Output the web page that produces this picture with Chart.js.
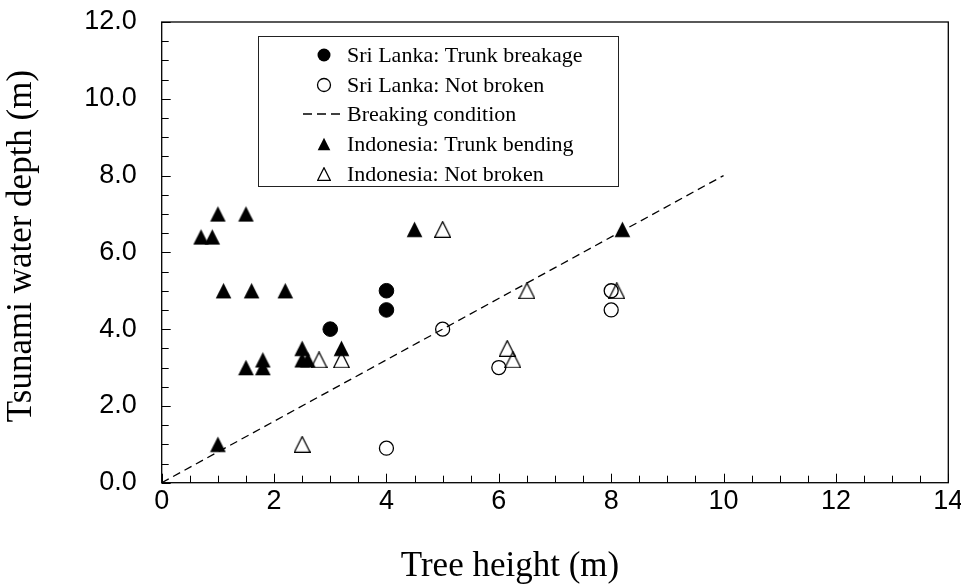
<!DOCTYPE html>
<html>
<head>
<meta charset="utf-8">
<script src="https://cdn.jsdelivr.net/npm/chart.js@4.4.0/dist/chart.umd.min.js"></script>
<style>
  html, body { margin: 0; padding: 0; background: #fff; }
  #wrap { width: 961px; height: 586px; }
</style>
</head>
<body>
<div id="wrap"><canvas id="scatterChart" width="961" height="586"></canvas></div>
<script>
// tree height (m) against tsunami water depth (m)
const sriBrokenX = [3.0, 4.0, 4.0];
const sriBrokenY = [4.0, 4.5, 5.0];

const sriIntactX = [4.0, 5.0, 6.0, 8.0, 8.0];
const sriIntactY = [0.9, 4.0, 3.0, 4.5, 5.0];

const breakLineX = [0, 10];
const breakLineY = [0, 8];

const indoBentX = [0.7, 0.9, 1.0, 1.5, 1.1, 1.6, 2.2, 1.5, 1.8, 1.8, 2.5, 2.5, 2.6, 3.2, 1.0, 4.5, 8.2];
const indoBentY = [6.4, 6.4, 7.0, 7.0, 5.0, 5.0, 5.0, 3.0, 3.0, 3.2, 3.5, 3.2, 3.2, 3.5, 1.0, 6.6, 6.6];

const indoIntactX = [2.5, 2.8, 3.2, 5.0, 6.15, 6.25, 6.5, 8.1];
const indoIntactY = [1.0, 3.2, 3.2, 6.6, 3.5, 3.2, 5.0, 5.0];

const xTickValues = [0, 2, 4, 6, 8, 10, 12, 14];
const yTickValues = [0, 2, 4, 6, 8, 10, 12];

const xTitle = 'Tree height (m)';
const yTitle = 'Tsunami water depth (m)';

const seriesLabels = [
  'Sri Lanka: Trunk breakage',
  'Sri Lanka: Not broken',
  'Breaking condition',
  'Indonesia: Trunk bending',
  'Indonesia: Not broken'
];

const serif = '"Liberation Serif", "Times New Roman", serif';
const sans = '"Liberation Sans", Arial, sans-serif';

function toPoints(xs, ys) {
  return xs.map((x, i) => ({ x: x, y: ys[i] }));
}

// triangle markers as small canvases so the shape is centred on its box
function makeTriangle(size, filled) {
  const c = document.createElement('canvas');
  c.width = size;
  c.height = size;
  const g = c.getContext('2d');
  g.beginPath();
  g.moveTo(size / 2, 0.8);
  g.lineTo(size - 0.7, size - 0.7);
  g.lineTo(0.7, size - 0.7);
  g.closePath();
  if (filled) {
    g.fillStyle = '#000';
    g.fill();
  } else {
    g.lineWidth = 1.3;
    g.strokeStyle = '#000';
    g.stroke();
  }
  return c;
}

const triFilled = makeTriangle(17, true);
const triOpen = makeTriangle(17, false);
const legTriFilled = makeTriangle(14, true);
const legTriOpen = makeTriangle(14, false);

// inward tick marks and the closed frame round the plot
const frameTicks = {
  id: 'frameTicks',
  afterDatasetsDraw(chart) {
    const { ctx, chartArea: a, scales } = chart;
    const xs = scales.x, ys = scales.y;
    ctx.save();
    ctx.strokeStyle = '#000';
    ctx.lineWidth = 1.3;
    ctx.strokeRect(a.left, a.top, a.right - a.left, a.bottom - a.top);
    ctx.lineWidth = 1;
    ctx.beginPath();
    for (let v = 0; v <= 14; v += 0.5) {
      const px = Math.round(xs.getPixelForValue(v)) + 0.5;
      const len = v % 2 === 0 ? 9 : 7;
      ctx.moveTo(px, a.bottom);
      ctx.lineTo(px, a.bottom - len);
    }
    for (let v = 0; v <= 12; v += 0.5) {
      const py = Math.round(ys.getPixelForValue(v)) + 0.5;
      const len = v % 2 === 0 ? 9 : 7;
      ctx.moveTo(a.left, py);
      ctx.lineTo(a.left + len, py);
    }
    ctx.stroke();
    ctx.restore();
  }
};

// axis titles, placed where the original has them (a bit off-centre)
const axisTitles = {
  id: 'axisTitles',
  afterDraw(chart) {
    const ctx = chart.ctx;
    ctx.save();
    ctx.fillStyle = '#000';
    ctx.font = '35px ' + serif;
    ctx.textAlign = 'center';
    ctx.textBaseline = 'middle';
    ctx.fillText(xTitle, 510, 567);
    ctx.translate(22, 246);
    ctx.rotate(-Math.PI / 2);
    ctx.fillText(yTitle, 0, 0);
    ctx.restore();
  }
};

// boxed legend inside the plot
const boxLegend = {
  id: 'boxLegend',
  afterDraw(chart) {
    const ctx = chart.ctx;
    const rows = [55, 85, 114, 144, 174];
    const mx = 324, tx = 347;
    ctx.save();
    ctx.fillStyle = '#fff';
    ctx.fillRect(258, 36, 360, 150);
    ctx.strokeStyle = '#222';
    ctx.lineWidth = 1;
    ctx.strokeRect(258.5, 36.5, 360, 150);

    chart.data.datasets.forEach((ds, i) => {
      const y = rows[i];
      ctx.strokeStyle = '#000';
      ctx.fillStyle = '#000';
      if (ds.kind === 'line') {
        ctx.lineWidth = 1.5;
        ctx.setLineDash([9, 5]);
        ctx.beginPath();
        ctx.moveTo(303, y);
        ctx.lineTo(341, y);
        ctx.stroke();
        ctx.setLineDash([]);
      } else if (ds.kind === 'circle') {
        ctx.lineWidth = 1.3;
        ctx.beginPath();
        ctx.arc(mx, y, 6.5, 0, Math.PI * 2);
        if (ds.filledMark) ctx.fill(); else ctx.stroke();
      } else {
        const img = ds.filledMark ? legTriFilled : legTriOpen;
        ctx.drawImage(img, mx - 7, y - 7);
      }
      ctx.fillStyle = '#000';
      ctx.font = '22px ' + serif;
      ctx.textBaseline = 'middle';
      ctx.textAlign = 'left';
      ctx.fillText(ds.label, tx, y + 1);
    });
    ctx.restore();
  }
};

function renderChart() {
  const ctx = document.getElementById('scatterChart').getContext('2d');
  new Chart(ctx, {
    type: 'scatter',
    data: {
      datasets: [{
        label: seriesLabels[0],
        kind: 'circle',
        filledMark: true,
        data: toPoints(sriBrokenX, sriBrokenY),
        pointStyle: 'circle',
        pointRadius: 7.3,
        backgroundColor: '#000',
        borderColor: '#000',
        borderWidth: 1,
        order: 0
      }, {
        label: seriesLabels[1],
        kind: 'circle',
        filledMark: false,
        data: toPoints(sriIntactX, sriIntactY),
        pointStyle: 'circle',
        pointRadius: 7,
        backgroundColor: 'rgba(0,0,0,0)',
        borderColor: '#000',
        borderWidth: 1.3,
        order: 0
      }, {
        label: seriesLabels[2],
        kind: 'line',
        type: 'line',
        data: toPoints(breakLineX, breakLineY),
        showLine: true,
        fill: false,
        borderColor: '#000',
        borderWidth: 1.3,
        borderDash: [8, 5],
        pointRadius: 0,
        tension: 0,
        order: 2
      }, {
        label: seriesLabels[3],
        kind: 'triangle',
        filledMark: true,
        data: toPoints(indoBentX, indoBentY),
        pointStyle: triFilled,
        pointRadius: 8,
        order: 0
      }, {
        label: seriesLabels[4],
        kind: 'triangle',
        filledMark: false,
        data: toPoints(indoIntactX, indoIntactY),
        pointStyle: triOpen,
        pointRadius: 8,
        order: 0
      }]
    },
    options: {
      responsive: false,
      animation: false,
      events: [],
      layout: { padding: { left: 0, right: 12.7, top: 22, bottom: 0 } },
      plugins: {
        legend: { display: false },
        tooltip: { enabled: false }
      },
      scales: {
        x: {
          type: 'linear',
          min: 0,
          max: 14,
          afterBuildTicks: (s) => { s.ticks = xTickValues.map(v => ({ value: v })); },
          afterFit: (s) => { s.height = 103.3; s.paddingLeft = 0; s.paddingRight = 0; },
          grid: { display: false, drawTicks: false },
          border: { display: false },
          ticks: {
            padding: 3,
            color: '#000',
            font: { family: sans, size: 27 },
            maxRotation: 0
          },
          title: { display: false }
        },
        y: {
          type: 'linear',
          min: 0,
          max: 12,
          afterBuildTicks: (s) => { s.ticks = yTickValues.map(v => ({ value: v })); },
          afterFit: (s) => { s.width = 161.7; s.paddingTop = 0; s.paddingBottom = 0; },
          grid: { display: false, drawTicks: false },
          border: { display: false },
          ticks: {
            padding: 25,
            color: '#000',
            font: { family: sans, size: 27 },
            callback: (v) => Number(v).toFixed(1)
          },
          title: { display: false }
        }
      }
    },
    plugins: [frameTicks, axisTitles, boxLegend]
  });
}

renderChart();
</script>
</body>
</html>
